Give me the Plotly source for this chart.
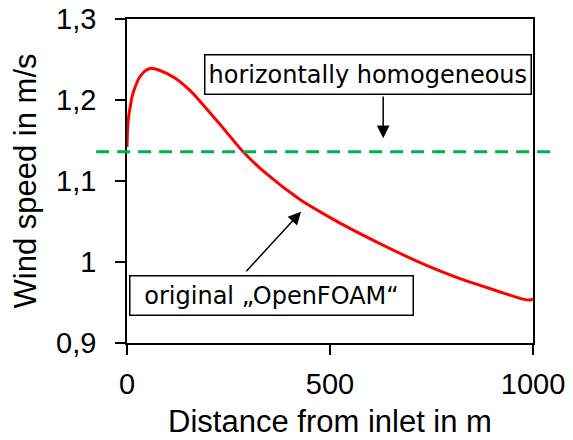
import plotly.graph_objects as go

# ---- data ----
distance_m = [0, 1, 2.5, 5, 7.5, 12, 20, 32, 45, 57, 81, 118, 155, 192, 229, 286,
              344, 426, 507, 574, 655, 739, 820, 870, 919, 951, 975, 993, 1000]
speed_openfoam = [1.142, 1.160, 1.172, 1.183, 1.190, 1.203, 1.216, 1.229, 1.236, 1.239,
                  1.2364, 1.2272, 1.2118, 1.1915, 1.1700, 1.1362, 1.1087, 1.0772, 1.0530,
                  1.0350, 1.0148, 0.9955, 0.9795, 0.9712, 0.9630, 0.9578, 0.9542, 0.9531, 0.9547]
speed_homogeneous = 1.1362

x_ticks = [0, 500, 1000]
y_ticks = [0.9, 1.0, 1.1, 1.2, 1.3]

label_homog = "horizontally homogeneous"
label_openfoam = "original \u201eOpenFOAM\u201c"

# annotation anchor points (data units)
homog_box = (594, 1.231)
homog_arrow_head = (631, 1.1527)
homog_arrow_tail = (631, 1.2062)
of_box = (356, 0.9586)
of_arrow_head = (428.6, 1.0621)
of_arrow_tail = (290.6, 0.9868)

fig = go.Figure()
fig.add_trace(go.Scatter(
    x=distance_m, y=speed_openfoam, mode="lines",
    line=dict(color="#ff0000", width=3, shape="spline", smoothing=0.8),
    showlegend=False, hoverinfo="skip"))

fig.add_shape(type="line", xref="paper", yref="y",
              x0=-0.076, x1=1.049, y0=speed_homogeneous, y1=speed_homogeneous,
              line=dict(color="#00b050", width=3, dash="13px,8px"))

ann_font = dict(family="DejaVu Sans", size=24, color="#000000")
fig.add_annotation(x=homog_box[0], y=homog_box[1], xref="x", yref="y",
                   text=label_homog, showarrow=False, font=ann_font, height=32,
                   bgcolor="white", bordercolor="#000000", borderwidth=1.5, borderpad=3)
fig.add_annotation(x=of_box[0], y=of_box[1], xref="x", yref="y",
                   text=label_openfoam, showarrow=False, font=ann_font, width=276, height=32,
                   bgcolor="white", bordercolor="#000000", borderwidth=1.5, borderpad=3)
for head, tail in [(homog_arrow_head, homog_arrow_tail), (of_arrow_head, of_arrow_tail)]:
    fig.add_annotation(x=head[0], y=head[1], xref="x", yref="y",
                       ax=tail[0], ay=tail[1], axref="x", ayref="y",
                       text="", showarrow=True, arrowhead=2, arrowsize=1.7,
                       arrowwidth=1.5, arrowcolor="#000000")

axis_common = dict(
    showline=True, linecolor="#000000", linewidth=1.5, mirror=True,
    ticks="outside", ticklen=10, tickwidth=1.5, tickcolor="#000000",
    showgrid=False, zeroline=False, ticklabeloverflow="allow",
    tickfont=dict(family="Liberation Sans", size=29, color="#000000"),
)
fig.update_xaxes(range=[0, 1000], tickvals=x_ticks,
                 title=dict(text="Distance from inlet in m",
                            font=dict(family="Liberation Sans", size=31, color="#000000"),
                            standoff=12),
                 ticklabelstandoff=4, **axis_common)
fig.update_yaxes(range=[0.9, 1.3], tickvals=y_ticks,
                 title=dict(text="Wind speed in m/s",
                            font=dict(family="Liberation Sans", size=31, color="#000000"),
                            standoff=11),
                 ticklabelstandoff=13, **axis_common)

# the page body has an 8px default margin, so the figure is sized to fit the window
fig.update_layout(
    width=565, height=432,
    margin=dict(l=119, r=40, t=11, b=97, autoexpand=False),
    plot_bgcolor="white", paper_bgcolor="white",
    separators=", ",
)
fig.write_html("out.html")
